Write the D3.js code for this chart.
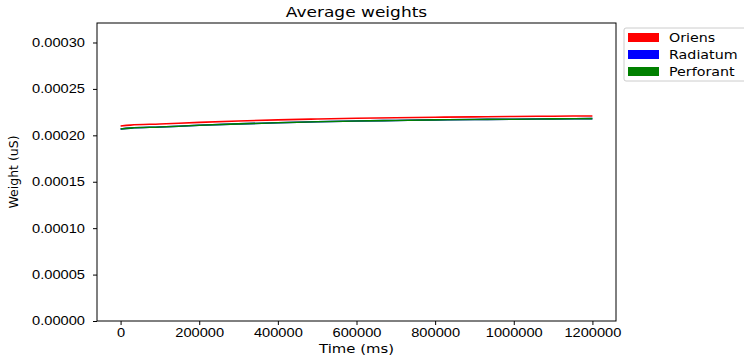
<!DOCTYPE html>
<html>
<head>
<meta charset="utf-8">
<script src="https://cdn.jsdelivr.net/npm/d3@7"></script>
<style>
  body { margin: 0; background: #fff; }
  svg { font-family: "DejaVu Sans", sans-serif; }
  .axis text { font-size: 12px; fill: #000; }
  .axis path, .axis line { stroke: #000; }
</style>
</head>
<body>
<svg width="744" height="358"></svg>
<script>
// time points (ms)
const times = [0, 25000, 100000, 200000, 300000, 400000, 500000, 600000, 700000, 800000, 900000, 1000000, 1100000, 1200000];

// average weights per layer (uS)
const oriens    = [0.0002100, 0.0002110, 0.0002122, 0.0002140, 0.0002155, 0.0002167, 0.0002176, 0.0002184, 0.0002190, 0.0002195, 0.0002199, 0.0002203, 0.0002206, 0.0002209];
const radiatum  = [0.0002068, 0.0002078, 0.0002090, 0.0002108, 0.0002123, 0.0002136, 0.0002146, 0.0002154, 0.0002160, 0.0002166, 0.0002170, 0.0002174, 0.0002177, 0.0002180];
const perforant = [0.0002068, 0.0002078, 0.0002090, 0.0002108, 0.0002123, 0.0002136, 0.0002146, 0.0002154, 0.0002160, 0.0002166, 0.0002170, 0.0002174, 0.0002177, 0.0002180];

const seriesNames = ['Oriens', 'Radiatum', 'Perforant'];
const seriesColors = ['#ff0000', '#0000ff', '#008000'];
const seriesValues = [oriens, radiatum, perforant];

const xTicks = [0, 200000, 400000, 600000, 800000, 1000000, 1200000];
const yTicks = [0, 0.00005, 0.0001, 0.00015, 0.0002, 0.00025, 0.0003];

const margin = { top: 23, right: 128, bottom: 37, left: 97 };
const width = 744 - margin.left - margin.right;
const height = 358 - margin.top - margin.bottom;
const stretch = 1.22; // the original figure is drawn a bit wide

const svg = d3.select('svg');
const g = svg.append('g')
  .attr('transform', 'translate(' + margin.left + ',' + margin.top + ')');

const x = d3.scaleLinear().domain([-60000, 1260000]).range([0, width]);
const y = d3.scaleLinear().domain([0, 0.000321]).range([height, 0]);

g.append('g')
  .attr('class', 'axis axis--x')
  .attr('transform', 'translate(0,' + height + ')')
  .call(d3.axisBottom(x).tickValues(xTicks).tickFormat(d3.format('d')).tickSize(4).tickPadding(3))
  .call(a => a.select('.domain').remove())
  .call(a => a.selectAll('text').attr('transform', 'scale(' + stretch + ',1)'));

g.append('g')
  .attr('class', 'axis axis--y')
  .call(d3.axisLeft(y).tickValues(yTicks).tickFormat(d3.format('.5f')).tickSize(4).tickPadding(3))
  .call(a => a.select('.domain').remove())
  .call(a => a.selectAll('text').attr('x', -12 / stretch).attr('transform', 'scale(' + stretch + ',1)'));

const line = d3.line()
  .x((d, i) => x(times[i]))
  .y(d => y(d))
  .curve(d3.curveMonotoneX);

seriesValues.forEach((vals, k) => {
  g.append('path')
    .datum(vals)
    .attr('fill', 'none')
    .attr('stroke', seriesColors[k])
    .attr('stroke-width', 1.6)
    .attr('d', line);
});

// frame
g.append('rect')
  .attr('width', width)
  .attr('height', height)
  .attr('fill', 'none')
  .attr('stroke', '#000')
  .attr('stroke-width', 1);

function label(px, py, size, txt, k) {
  svg.append('g')
    .attr('transform', 'translate(' + px + ',' + py + ') scale(' + k + ',1)')
    .append('text')
    .attr('text-anchor', 'middle')
    .style('font-size', size + 'px')
    .text(txt);
}
label(margin.left + width / 2, 17, 13.5, 'Average weights', 1.26);
label(margin.left + width / 2, 353, 12, 'Time (ms)', 1.24);

svg.append('text')
  .attr('transform', 'translate(18,' + (margin.top + height / 2) + ') rotate(-90)')
  .attr('text-anchor', 'middle')
  .style('font-size', '12.5px')
  .text('Weight (uS)');

// legend
const legend = svg.append('g').attr('transform', 'translate(624,28)');
legend.append('rect')
  .attr('width', 124)
  .attr('height', 53)
  .attr('rx', 2)
  .attr('fill', '#fff')
  .attr('stroke', '#ccc');
seriesNames.forEach((name, k) => {
  const row = legend.append('g').attr('transform', 'translate(4,' + (9 + k * 17) + ')');
  row.append('rect')
    .attr('y', -4)
    .attr('width', 31)
    .attr('height', 9)
    .attr('fill', seriesColors[k]);
  row.append('g')
    .attr('transform', 'translate(41,4.5) scale(1.19,1)')
    .append('text')
    .style('font-size', '12px')
    .text(name);
});
</script>
</body>
</html>
